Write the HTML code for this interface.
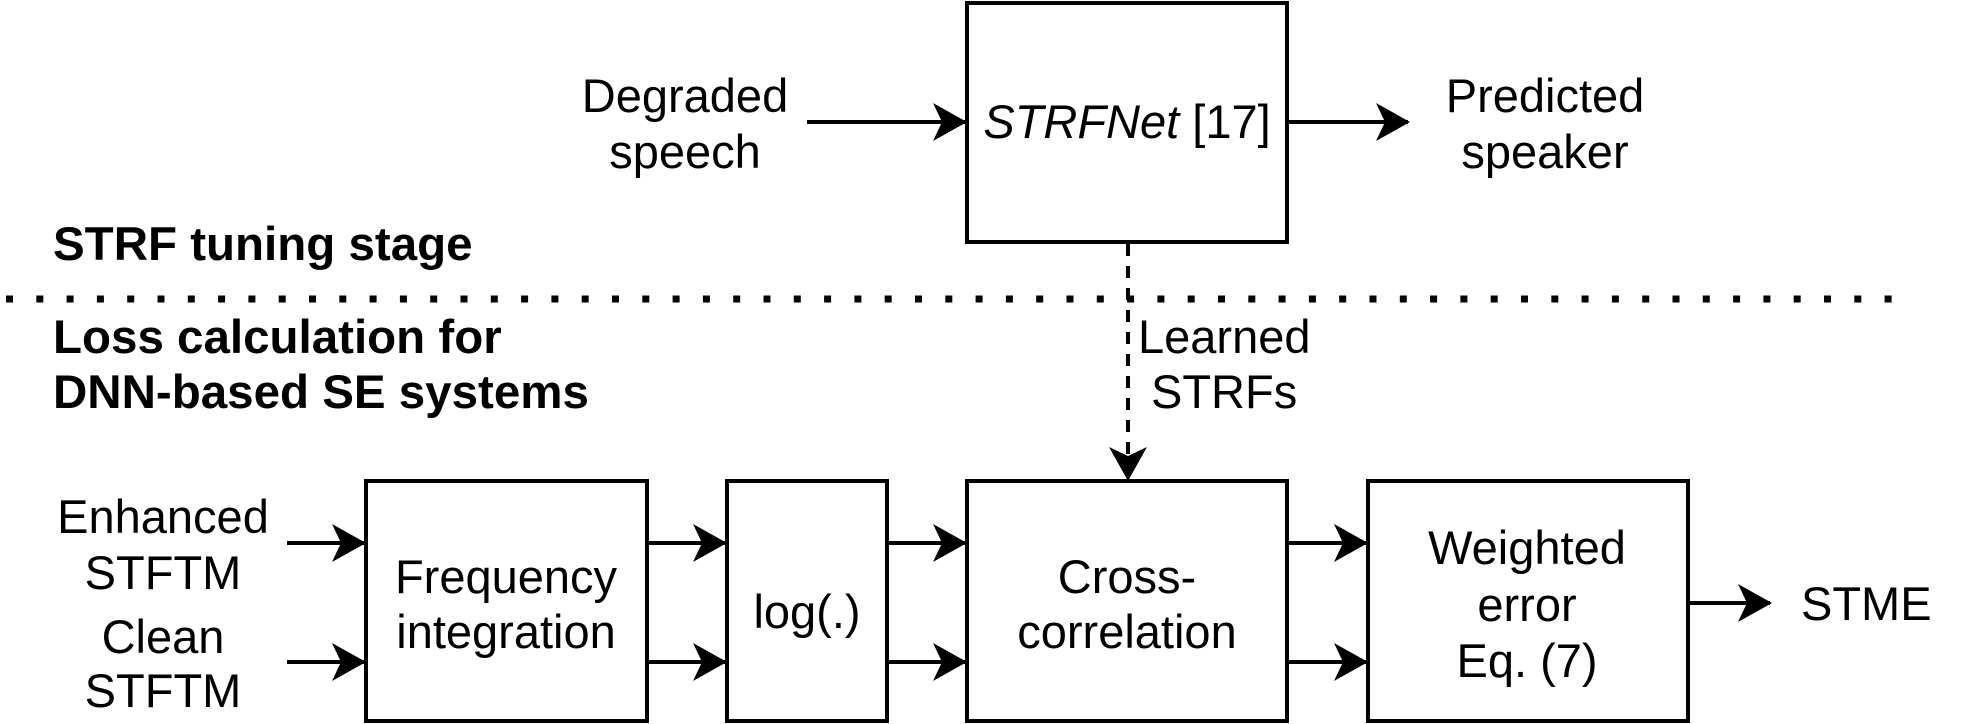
<!DOCTYPE html>
<html><head><meta charset="utf-8"><style>
html,body{margin:0;padding:0;background:#fff;}
svg{display:block;}
text{font-family:"Liberation Sans",Arial,sans-serif;font-size:47px;fill:#000;}
.b{font-weight:bold;font-size:47.5px;}
</style></head><body>
<svg width="1968" height="724" viewBox="0 0 1968 724" xmlns="http://www.w3.org/2000/svg">
<defs>
<marker id="a" markerWidth="34" markerHeight="38" refX="32" refY="19" orient="auto" markerUnits="userSpaceOnUse">
<path d="M0,0 L34,19 L0,38 L9,19 Z" fill="#000"/>
</marker>
</defs>
<g fill="none" stroke="#000" stroke-width="4">
<rect x="967" y="3" width="320" height="239"/>
<rect x="366" y="481" width="281" height="240"/>
<rect x="727" y="481" width="160" height="240"/>
<rect x="967" y="481" width="320" height="240"/>
<rect x="1368" y="481" width="320" height="240"/>
<line x1="807" y1="122" x2="965" y2="122" marker-end="url(#a)"/>
<line x1="1287" y1="122" x2="1408" y2="122" marker-end="url(#a)"/>
<line x1="287" y1="543" x2="364" y2="543" marker-end="url(#a)"/>
<line x1="287" y1="662" x2="364" y2="662" marker-end="url(#a)"/>
<line x1="647" y1="543" x2="725" y2="543" marker-end="url(#a)"/>
<line x1="647" y1="662" x2="725" y2="662" marker-end="url(#a)"/>
<line x1="887" y1="543" x2="965" y2="543" marker-end="url(#a)"/>
<line x1="887" y1="662" x2="965" y2="662" marker-end="url(#a)"/>
<line x1="1287" y1="543" x2="1366" y2="543" marker-end="url(#a)"/>
<line x1="1287" y1="662" x2="1366" y2="662" marker-end="url(#a)"/>
<line x1="1688" y1="603" x2="1770" y2="603" marker-end="url(#a)"/>
<line x1="1128" y1="244" x2="1128" y2="479" stroke-dasharray="12 10" marker-end="url(#a)"/>
<line x1="6" y1="299" x2="1910" y2="299" stroke-width="7" stroke-dasharray="7 23.3"/>
</g>
<text x="685" y="112" text-anchor="middle">Degraded</text>
<text x="685" y="168" text-anchor="middle">speech</text>
<text x="1127" y="138" text-anchor="middle"><tspan font-style="italic">STRFNet</tspan> [17]</text>
<text x="1545" y="112" text-anchor="middle">Predicted</text>
<text x="1545" y="168" text-anchor="middle">speaker</text>
<text class="b" x="53" y="260">STRF tuning stage</text>
<text class="b" x="53" y="353">Loss calculation for</text>
<text class="b" x="53" y="408">DNN-based SE systems</text>
<text x="1138" y="353">Learned</text>
<text x="1151" y="408">STRFs</text>
<text x="163" y="533" text-anchor="middle">Enhanced</text>
<text x="163" y="589" text-anchor="middle">STFTM</text>
<text x="163" y="653" text-anchor="middle">Clean</text>
<text x="163" y="707" text-anchor="middle">STFTM</text>
<text x="506" y="593" text-anchor="middle">Frequency</text>
<text x="506" y="648" text-anchor="middle">integration</text>
<text x="807" y="628" text-anchor="middle">log(.)</text>
<text x="1127" y="593" text-anchor="middle">Cross-</text>
<text x="1127" y="648" text-anchor="middle">correlation</text>
<text x="1527" y="564" text-anchor="middle">Weighted</text>
<text x="1527" y="621" text-anchor="middle">error</text>
<text x="1527" y="677" text-anchor="middle">Eq. (7)</text>
<text x="1801" y="620">STME</text>
</svg>
</body></html>
